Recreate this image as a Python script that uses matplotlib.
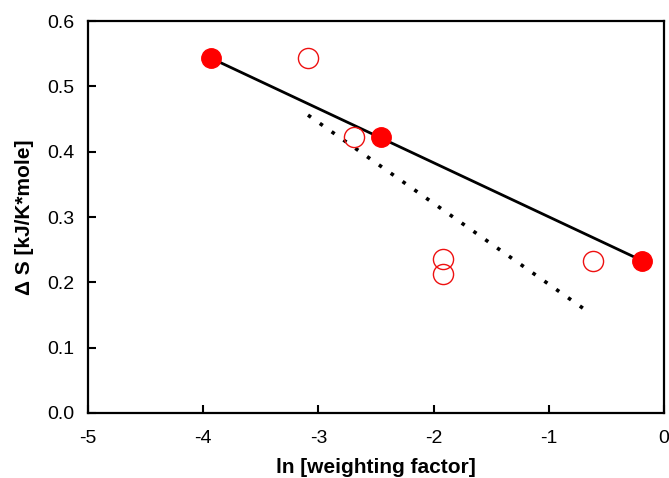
import numpy as np
import matplotlib
matplotlib.use("Agg")
import matplotlib.pyplot as plt

plt.rcParams['font.family'] = ['Liberation Sans', 'DejaVu Sans']
plt.rcParams['axes.unicode_minus'] = False

# filled points (fit shown as solid line)
x_filled = [-3.93, -2.457, -0.188]
y_filled = [0.543, 0.423, 0.233]

# open points
x_open = [-3.093, -2.69, -1.916, -1.916, -0.614]
y_open = [0.543, 0.423, 0.236, 0.212, 0.233]

# dotted trend line end points
x_dot = [-3.09, -0.70]
y_dot = [0.456, 0.160]

fig = plt.figure(figsize=(6.69, 4.78), dpi=100)
ax = fig.add_axes([0.1315, 0.136, 0.861, 0.82])

ax.plot([x_filled[0], x_filled[-1]], [y_filled[0], y_filled[-1]],
        color='black', lw=2.0, zorder=2)
ax.plot(x_dot, y_dot, color='black', lw=2.6, linestyle=(0, (1, 3)),
        zorder=2)
ax.plot(x_filled, y_filled, 'o', ms=14, color='#ff0000', mec='#ff0000',
        zorder=3)
ax.plot(x_open, y_open, 'o', ms=14.5, mfc='none', mec='#ee1111', mew=1.0,
        zorder=3)

ax.set_xlim(-5, 0)
ax.set_ylim(0, 0.6)
ax.set_xticks([-5, -4, -3, -2, -1, 0])
ax.set_yticks(np.arange(0, 0.61, 0.1))
ax.set_yticklabels(['%.1f' % v for v in np.arange(0, 0.61, 0.1)])
ax.tick_params(direction='in', length=6, width=1.5, labelsize=14)
ax.tick_params(axis='y', pad=10)
ax.tick_params(axis='x', pad=12)
for s in ax.spines.values():
    s.set_linewidth(1.6)

ax.set_xlabel('ln [weighting factor]', fontsize=15, fontweight='bold',
              labelpad=8)
ax.set_ylabel('\u0394 S [kJ/K*mole]', fontsize=15, fontweight='bold',
              labelpad=9)

fig.savefig('out.png', dpi=100)
